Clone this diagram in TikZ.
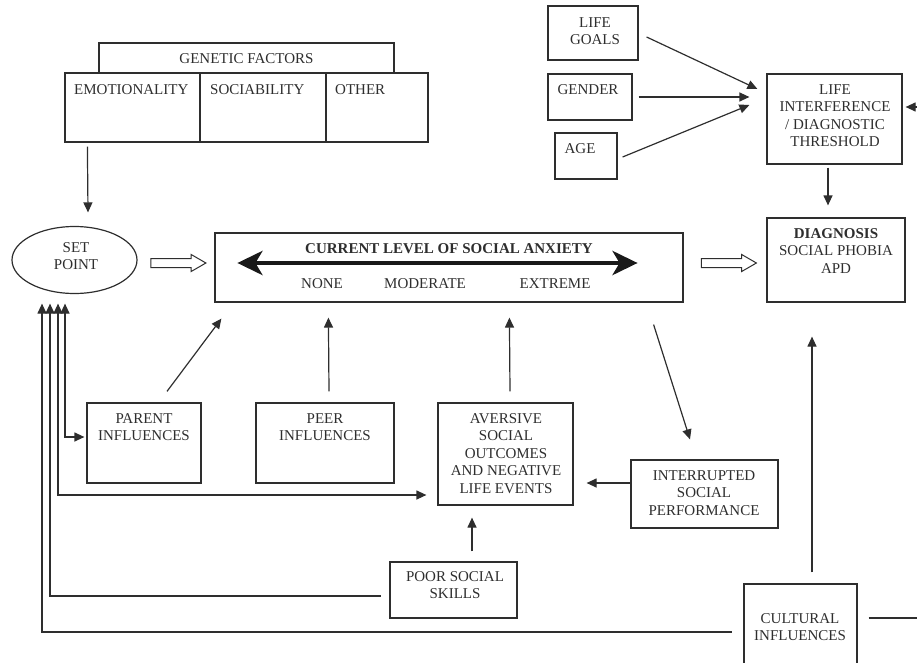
\documentclass[tikz,border=0pt]{standalone}
\usepackage{fontspec}
\setmainfont{Liberation Serif}
\usetikzlibrary{arrows.meta,shapes.arrows,shapes.geometric,calc}
\definecolor{ink}{gray}{0.18}
\begin{document}
\begin{tikzpicture}[x=1pt,y=-1pt,
  every node/.style={font=\fontsize{15}{17.5}\selectfont, text=ink},
  box/.style={draw=ink, line width=1.2pt, inner sep=0pt, rectangle},
  lbl/.style={anchor=north, align=center, inner sep=0pt},
  lbll/.style={anchor=north west, align=left, inner sep=0pt},
  tip/.tip={Triangle[length=10pt,width=9pt]},
  conn/.style={draw=ink, line width=1.2pt, -tip},
  bothconn/.style={draw=ink, line width=1.2pt, tip-tip},
  backconn/.style={draw=ink, line width=1.2pt, tip-},
  plain/.style={draw=ink, line width=1.2pt},
  openarrow/.style={single arrow, draw=ink, fill=white, line width=1pt,
    inner sep=4pt, minimum width=16pt, single arrow head extend=4pt,
    single arrow tip angle=60, minimum height=55pt}
]
\clip (0,0) rectangle (917,663);

% genetic factors table
\node[box, minimum width=295pt, minimum height=30pt] (gtop) at (246.5,58) {};
\node[box, minimum width=135pt, minimum height=69pt] (gemo) at (132.5,107.5) {};
\node[box, minimum width=126pt, minimum height=69pt] (gsoc) at (263,107.5) {};
\node[box, minimum width=102pt, minimum height=69pt] (goth) at (377,107.5) {};
\node[lbl] (gtopT) at (246.5,53) {GENETIC FACTORS};
\node[lbll] (gemoT) at (74,84) {EMOTIONALITY};
\node[lbll] (gsocT) at (210,84) {SOCIABILITY};
\node[lbll] (gothT) at (335,84) {OTHER};

% set point
\node[draw=ink, line width=1.2pt, ellipse, minimum width=125pt, minimum height=67pt, inner sep=0pt] (setpoint) at (74.5,260) {};
\node[lbl] (setT) at (76,242) {SET\\POINT};

% current level of social anxiety
\node[box, minimum width=468pt, minimum height=69pt] (central) at (449,267.5) {};
\node[lbl] (curT) at (449,243) {\bfseries CURRENT LEVEL OF SOCIAL ANXIETY};
\node[lbl] (noneT) at (322,278) {NONE};
\node[lbl] (modT) at (425,278) {MODERATE};
\node[lbl] (extT) at (555,278) {EXTREME};
\draw[draw=black!90, line width=4.5pt,
  {Stealth[length=25pt,width=24pt,inset=7pt]}-{Stealth[length=25pt,width=24pt,inset=7pt]}]
  ($(central.west)+(23,-4.5)$) -- ($(central.east)+(-46,-4.5)$);

% open arrows
\node[openarrow] (arrA) at (174.5,263) {};
\node[openarrow] (arrB) at (725,263) {};

% diagnosis
\node[box, minimum width=138pt, minimum height=84pt] (diag) at (836,260) {};
\node[lbl] (diagT) at (836,228) {\bfseries DIAGNOSIS\\SOCIAL PHOBIA\\APD};

% life factors
\node[box, minimum width=90pt, minimum height=54pt] (goals) at (593,33) {};
\node[lbl] (goalsT) at (595,17) {LIFE\\GOALS};
\node[box, minimum width=84pt, minimum height=46pt] (gender) at (590,97) {};
\node[lbl] (genderT) at (588,84) {GENDER};
\node[box, minimum width=62pt, minimum height=46pt] (age) at (586,156) {};
\node[lbl] (ageT) at (580,143) {AGE};
\node[box, minimum width=135pt, minimum height=90pt] (interf) at (834.5,119) {};
\node[lbl] (interfT) at (835,84) {LIFE\\INTERFERENCE\\/ DIAGNOSTIC\\THRESHOLD};

% influences
\node[box, minimum width=114pt, minimum height=80pt] (parent) at (144,443) {};
\node[lbl] (parentT) at (144,413) {PARENT\\INFLUENCES};
\node[box, minimum width=138pt, minimum height=80pt] (peer) at (325,443) {};
\node[lbl] (peerT) at (325,413) {PEER\\INFLUENCES};
\node[box, minimum width=135pt, minimum height=102pt] (aversive) at (505.5,454) {};
\node[lbl] (aversiveT) at (506,413) {AVERSIVE\\SOCIAL\\OUTCOMES\\AND NEGATIVE\\LIFE EVENTS};
\node[box, minimum width=147pt, minimum height=68pt] (interr) at (704.5,494) {};
\node[lbl] (interrT) at (704,470) {INTERRUPTED\\SOCIAL\\PERFORMANCE};
\node[box, minimum width=127pt, minimum height=56pt] (poor) at (453.5,590) {};
\node[lbl] (poorT) at (455,571) {POOR SOCIAL\\SKILLS};
\node[box, minimum width=113pt, minimum height=96pt] (cultural) at (800.5,632) {};
\node[lbl] (culturalT) at (800,613) {CULTURAL\\INFLUENCES};

% free ends at the right margin
\coordinate (rimIn) at (917,107);
\coordinate (rimOut) at (917,618);

% connectors
\draw[conn] ($(gemo.south west)+(23,4)$) -- ($(setpoint.north)+(13.5,-13.5)$);
\draw[conn] ($(goals.east)+(8,4)$) -- ($(interf.west)+(-9,-30)$);
\draw[conn] ($(gender.east)+(6,0)$) -- ($(interf.west)+(-17,-22)$);
\draw[conn] ($(age.east)+(5,1)$) -- ($(interf.west)+(-17,-14)$);
\draw[conn] (rimIn) -- ($(interf.east)+(3,-12)$);
\draw[conn] ($(interf.south)+(-6.5,3)$) -- ($(diag.north)+(-8,-12)$);
\draw[conn] ($(parent.north)+(23,-11)$) -- ($(central.south west)+(7,16)$);
\draw[conn] ($(peer.north)+(4,-11)$) -- ($(central.south west)+(114,15)$);
\draw[conn] ($(aversive.north)+(4.5,-11)$) -- ($(central.south west)+(295,15)$);
\draw[conn] ($(central.south east)+(-30,22)$) -- ($(interr.north)+(-14.5,-20)$);
\draw[conn] ($(interr.west)+(0,-11)$) -- ($(aversive.east)+(13,29)$);
\draw[conn] ($(poor.north)+(18.5,-10)$) -- ($(aversive.south)+(-33.5,12)$);
\draw[conn] ($(cultural.north)+(11.5,-11)$) -- ($(diag.south)+(-24,34)$);
\draw[plain] ($(cultural.east)+(11,-14)$) -- (rimOut);

% feedback paths into the set point
\draw[bothconn] ($(setpoint.south)+(-9.5,9.5)$) |- ($(parent.west)+(-2,-6)$);
\draw[bothconn] ($(setpoint.south)+(-16.5,9.5)$) |- ($(aversive.west)+(-11,41)$);
\draw[backconn] ($(setpoint.south)+(-24.5,9.5)$) |- ($(poor.west)+(-8,6)$);
\draw[backconn] ($(setpoint.south)+(-32.5,9.5)$) |- ($(cultural.west)+(-11,0)$);
\end{tikzpicture}
\end{document}
